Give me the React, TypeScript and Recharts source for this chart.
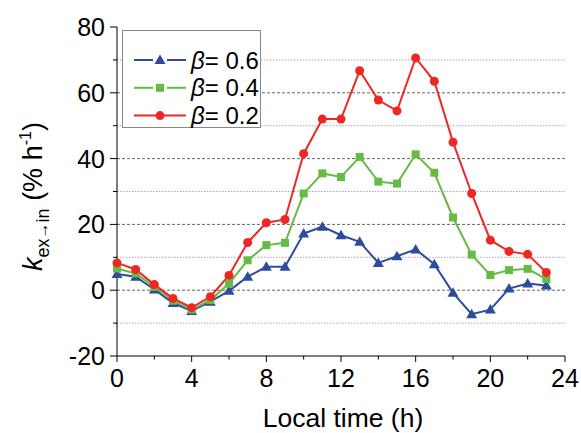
import React from "react"
import {
  LineChart,
  Line,
  XAxis,
  YAxis,
  ReferenceLine,
  Legend,
} from "recharts"

const HOURS = [0, 1, 2, 3, 4, 5, 6, 7, 8, 9, 10, 11, 12, 13, 14, 15, 16, 17, 18, 19, 20, 21, 22, 23]
const BETA_06 = [4.9, 4.1, 0.2, -3.9, -6.3, -3.5, -0.2, 4.1, 7.1, 7.1, 17.2, 19.3, 16.7, 14.7, 8.3, 10.3, 12.4, 7.9, -0.8, -7.3, -5.9, 0.5, 2.0, 1.4]
const BETA_04 = [6.6, 5.1, 1.0, -3.2, -5.9, -3.0, 2.0, 9.1, 13.7, 14.4, 29.4, 35.5, 34.4, 40.5, 33.0, 32.4, 41.3, 35.7, 22.1, 10.8, 4.6, 6.1, 6.5, 3.4]
const BETA_02 = [8.3, 6.3, 1.7, -2.5, -5.3, -2.0, 4.5, 14.5, 20.5, 21.5, 41.5, 52.0, 52.0, 66.7, 57.8, 54.5, 70.6, 63.5, 45.0, 29.4, 15.2, 11.8, 10.9, 5.4]

const X_TICKS = [0, 2, 4, 6, 8, 10, 12, 14, 16, 18, 20, 22, 24]
const Y_TICKS = [-20, -10, 0, 10, 20, 30, 40, 50, 60, 70, 80]
const GRID_DASHED = [0, 20, 40, 60]
const GRID_DOTTED = [-10, 10, 30, 50, 70]

const BLUE = "#2d4c9f"
const GREEN = "#66bb44"
const RED = "#ee2624"
const FONT = "'Liberation Sans', Arial, sans-serif"

const data = HOURS.map((h, i) => ({
  h,
  b06: BETA_06[i],
  b04: BETA_04[i],
  b02: BETA_02[i],
}))

const BottomTick = ({ x, y, payload }: any) => {
  const major = payload.value % 4 === 0
  return (
    <g>
      <line x1={x} x2={x} y1={y} y2={y + (major ? 6 : 3.5)} stroke="#000" />
      {major && (
        <text x={x} y={y + 31} textAnchor="middle" fontSize={25} fontFamily={FONT} fill="#000">
          {payload.value}
        </text>
      )}
    </g>
  )
}

const TopTick = ({ x, y, payload }: any) => {
  const major = payload.value % 4 === 0
  return <line x1={x} x2={x} y1={y} y2={y + (major ? 6 : 3.5)} stroke="#000" />
}

const LeftTick = ({ x, y, payload }: any) => {
  const major = payload.value % 20 === 0
  return (
    <g>
      <line x1={x - (major ? 7 : 4)} x2={x} y1={y} y2={y} stroke="#000" />
      {major && (
        <text x={x - 12} y={y + 9} textAnchor="end" fontSize={25} fontFamily={FONT} fill="#000">
          {payload.value}
        </text>
      )}
    </g>
  )
}

const RightTick = ({ x, y, payload }: any) => {
  const major = payload.value % 20 === 0
  return <line x1={x - (major ? 6 : 3.5)} x2={x} y1={y} y2={y} stroke="#000" />
}

const triangleDot = (p: any) => (
  <path
    key={`tri-${p.index}`}
    d={`M${p.cx},${p.cy - 5.5} L${p.cx + 5.5},${p.cy + 4} L${p.cx - 5.5},${p.cy + 4} Z`}
    fill={BLUE}
  />
)

const squareDot = (p: any) => (
  <rect key={`sq-${p.index}`} x={p.cx - 4} y={p.cy - 4} width={8} height={8} fill={GREEN} />
)

const YLabel = ({ viewBox }: any) => {
  const cx = viewBox.x + 42
  const cy = viewBox.y + viewBox.height / 2 + 5
  return (
    <text
      x={cx}
      y={cy}
      transform={`rotate(-90 ${cx} ${cy})`}
      textAnchor="middle"
      fontSize={27}
      fontFamily={FONT}
      fill="#000"
    >
      <tspan fontStyle="italic">k</tspan>
      <tspan fontSize={18} dy={7}>ex</tspan>
      <tspan fontSize={16} dy={-1}>→</tspan>
      <tspan fontSize={18} dy={1}>in</tspan>
      <tspan dy={-7}> (% h</tspan>
      <tspan fontSize={16} dy={-11}>-1</tspan>
      <tspan dy={11}>)</tspan>
    </text>
  )
}

const XLabel = ({ viewBox }: any) => (
  <text
    x={viewBox.x + viewBox.width / 2 + 2}
    y={viewBox.y + 71}
    textAnchor="middle"
    fontSize={26.5}
    fontFamily={FONT}
    fill="#000"
  >
    Local time (h)
  </text>
)

const legendRows = [
  { label: "0.6", color: BLUE, shape: "tri", gap: true },
  { label: "0.4", color: GREEN, shape: "sq", gap: true },
  { label: "0.2", color: RED, shape: "circle", gap: false },
]

const LegendBox = () => (
  <svg width={139} height={98} style={{ display: "block" }}>
    <rect x={0.5} y={0.5} width={138} height={97} fill="#fff" stroke="#888" />
    {legendRows.map((r, i) => {
      const y = 30 + i * 27.8
      return (
        <g key={r.label}>
          {r.gap ? (
            <>
              <line x1={12} x2={31} y1={y} y2={y} stroke={r.color} strokeWidth={2} />
              <line x1={45} x2={64} y1={y} y2={y} stroke={r.color} strokeWidth={2} />
            </>
          ) : (
            <line x1={12} x2={64} y1={y} y2={y} stroke={r.color} strokeWidth={2} />
          )}
          {r.shape === "tri" && (
            <path d={`M38,${y - 5.5} L43.5,${y + 4} L32.5,${y + 4} Z`} fill={r.color} />
          )}
          {r.shape === "sq" && <rect x={34} y={y - 4} width={8} height={8} fill={r.color} />}
          {r.shape === "circle" && <circle cx={38} cy={y} r={4.5} fill={r.color} />}
          <text x={69} y={y + 8.5} fontSize={24} fontFamily={FONT} fill="#000">
            <tspan fontStyle="italic">β</tspan>= {r.label}
          </text>
        </g>
      )
    })}
  </svg>
)

export default function App() {
  return (
    <div style={{ position: "absolute", left: 0, top: 0, width: 581, height: 433, background: "#fff" }}>
      <LineChart width={581} height={433} data={data} margin={{ top: 27, right: 16, left: 0, bottom: 0 }}>
        <XAxis
          dataKey="h"
          type="number"
          domain={[0, 24]}
          ticks={X_TICKS}
          interval={0}
          height={77}
          tickSize={0}
          tickMargin={0}
          tickLine={false}
          tick={<BottomTick />}
          axisLine={{ stroke: "#000" }}
          label={{ content: XLabel }}
        />
        <XAxis
          xAxisId="top"
          orientation="top"
          dataKey="h"
          type="number"
          domain={[0, 24]}
          allowDataOverflow
          ticks={X_TICKS}
          interval={0}
          height={0}
          tickSize={0}
          tickMargin={0}
          tickLine={false}
          tick={<TopTick />}
          axisLine={{ stroke: "#000" }}
        />
        <YAxis
          type="number"
          domain={[-20, 80]}
          ticks={Y_TICKS}
          interval={0}
          width={117}
          tickSize={0}
          tickMargin={0}
          tickLine={false}
          tick={<LeftTick />}
          axisLine={{ stroke: "#000" }}
          label={{ content: YLabel }}
        />
        <YAxis
          yAxisId="right"
          orientation="right"
          type="number"
          domain={[-20, 80]}
          allowDataOverflow
          ticks={Y_TICKS}
          interval={0}
          width={0}
          tickSize={0}
          tickMargin={0}
          tickLine={false}
          tick={<RightTick />}
          axisLine={{ stroke: "#000" }}
        />
        {GRID_DOTTED.map((v) => (
          <ReferenceLine key={`d${v}`} y={v} stroke="#aaa" strokeDasharray="1.5 1.5" />
        ))}
        {GRID_DASHED.map((v) => (
          <ReferenceLine key={`g${v}`} y={v} stroke="#666" strokeDasharray="3 2" />
        ))}
        <Legend
          layout="vertical"
          align="center"
          verticalAlign="middle"
          content={LegendBox}
          wrapperStyle={{ position: "absolute", left: 122, top: 30, width: 139, height: 98 }}
        />
        <Line
          dataKey="b06"
          stroke={BLUE}
          strokeWidth={2}
          dot={triangleDot}
          activeDot={false}
          isAnimationActive={false}
        />
        <Line
          dataKey="b04"
          stroke={GREEN}
          strokeWidth={2}
          dot={squareDot}
          activeDot={false}
          isAnimationActive={false}
        />
        <Line
          dataKey="b02"
          stroke={RED}
          strokeWidth={2}
          dot={{ r: 4.5, fill: RED, stroke: RED, strokeWidth: 0 }}
          activeDot={false}
          isAnimationActive={false}
        />
      </LineChart>
    </div>
  )
}
